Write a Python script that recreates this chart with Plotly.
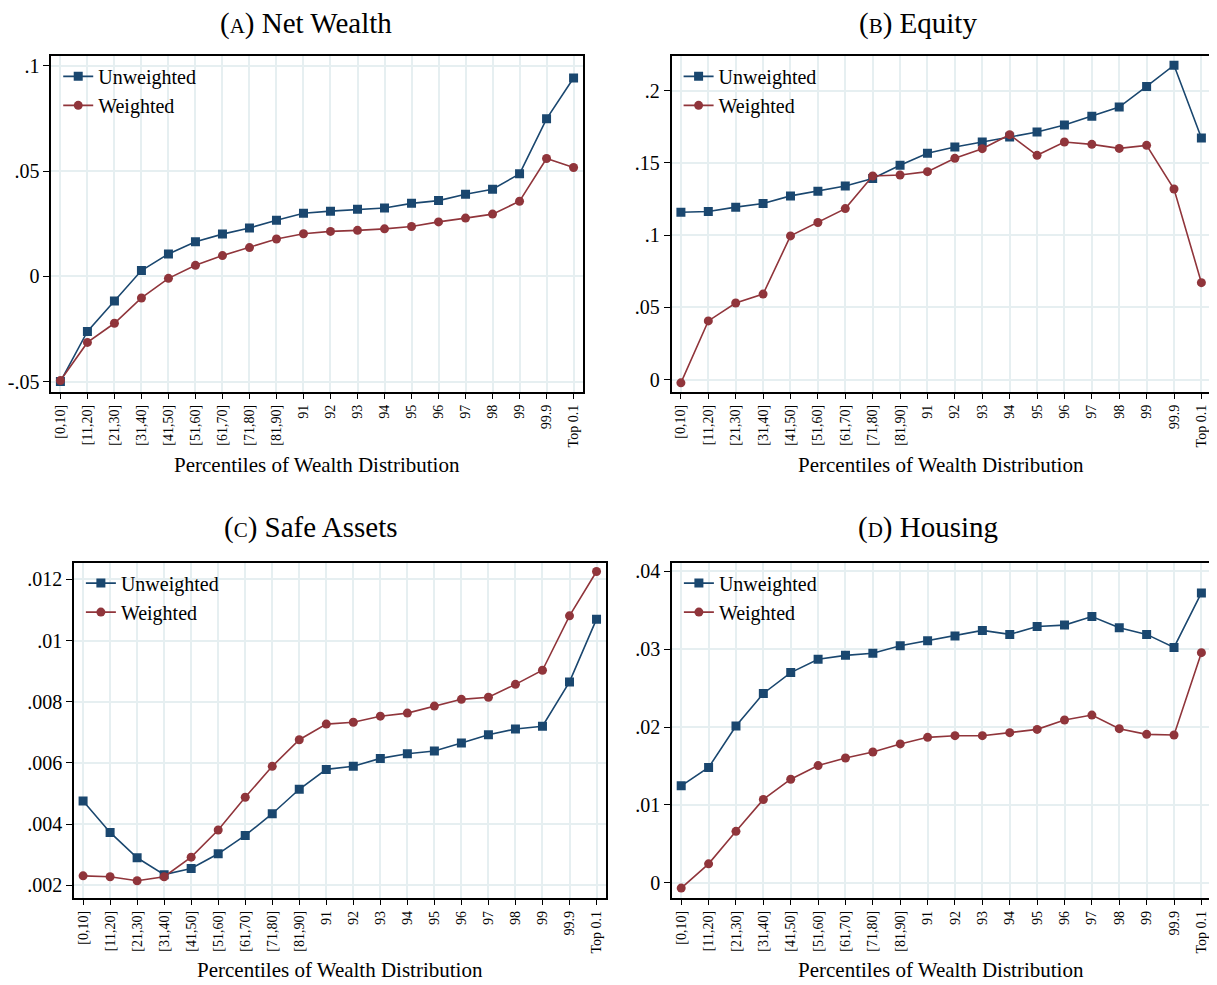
import plotly.graph_objects as go

# ---------------- data ----------------
categories = ["[0,10]", "[11,20]", "[21,30]", "[31,40]", "[41,50]", "[51,60]",
              "[61,70]", "[71,80]", "[81,90]", "91", "92", "93", "94", "95",
              "96", "97", "98", "99", "99.9", "Top 0.1"]

series_names = ["Unweighted", "Weighted"]

net_wealth_unweighted = [-0.0499, -0.0261, -0.0116, 0.0028, 0.0107, 0.0165, 0.0201, 0.0230,
                         0.0267, 0.0300, 0.0310, 0.0319, 0.0325, 0.0347, 0.0360, 0.0390,
                         0.0414, 0.0487, 0.0748, 0.0942]
net_wealth_weighted = [-0.0494, -0.0313, -0.0222, -0.0102, -0.0009, 0.0053, 0.0099, 0.0137,
                       0.0178, 0.0203, 0.0214, 0.0219, 0.0226, 0.0237, 0.0259, 0.0277,
                       0.0296, 0.0357, 0.0560, 0.0517]

equity_unweighted = [0.1159, 0.1164, 0.1194, 0.1219, 0.1272, 0.1304, 0.1341, 0.1392,
                     0.1484, 0.1567, 0.1611, 0.1645, 0.1680, 0.1714, 0.1763, 0.1823,
                     0.1887, 0.2030, 0.2177, 0.1673]
equity_weighted = [-0.0023, 0.0406, 0.0530, 0.0592, 0.0995, 0.1088, 0.1184, 0.1410,
                   0.1417, 0.1440, 0.1532, 0.1599, 0.1696, 0.1553, 0.1645, 0.1629,
                   0.1601, 0.1622, 0.1320, 0.0671]

safe_unweighted = [0.00476, 0.00373, 0.00290, 0.00235, 0.00255, 0.00303, 0.00363, 0.00434,
                   0.00514, 0.00579, 0.00589, 0.00615, 0.00630, 0.00639, 0.00665, 0.00692,
                   0.00711, 0.00720, 0.00865, 0.01070]
safe_weighted = [0.00231, 0.00228, 0.00215, 0.00228, 0.00292, 0.00381, 0.00488, 0.00589,
                 0.00676, 0.00727, 0.00733, 0.00753, 0.00763, 0.00786, 0.00808, 0.00815,
                 0.00857, 0.00903, 0.01081, 0.01226]

housing_unweighted = [0.01245, 0.01480, 0.02013, 0.02431, 0.02699, 0.02870, 0.02921, 0.02947,
                      0.03045, 0.03109, 0.03168, 0.03241, 0.03190, 0.03292, 0.03309, 0.03420,
                      0.03275, 0.03190, 0.03023, 0.03723]
housing_weighted = [-0.00068, 0.00243, 0.00661, 0.01070, 0.01330, 0.01505, 0.01603, 0.01680,
                    0.01783, 0.01868, 0.01889, 0.01889, 0.01928, 0.01970, 0.02090, 0.02154,
                    0.01979, 0.01906, 0.01898, 0.02955]

panel_letters = ["A", "B", "C", "D"]
panel_titles = ["Net Wealth", "Equity", "Safe Assets", "Housing"]
x_axis_title = "Percentiles of Wealth Distribution"

net_wealth_ticks = [-0.05, 0, 0.05, 0.1]
net_wealth_ticktext = ["-.05", "0", ".05", ".1"]
equity_ticks = [0, 0.05, 0.1, 0.15, 0.2]
equity_ticktext = ["0", ".05", ".1", ".15", ".2"]
safe_ticks = [0.002, 0.004, 0.006, 0.008, 0.01, 0.012]
safe_ticktext = [".002", ".004", ".006", ".008", ".01", ".012"]
housing_ticks = [0, 0.01, 0.02, 0.03, 0.04]
housing_ticktext = ["0", ".01", ".02", ".03", ".04"]

# ---------------- layout / style ----------------
PAGE_W, PAGE_H = 1217, 985
OFF = 8  # default body margin of the html page
W, H = PAGE_W - OFF, PAGE_H - OFF
FONT = "Liberation Serif"
NAVY = "#1a476f"
MAROON = "#90353b"
GRID = "#e6eff1"


def px(x):
    return (x - OFF) / W


def py(y):
    return 1 - (y - OFF) / H


panels = [
    dict(unw=net_wealth_unweighted, wt=net_wealth_weighted, tv=net_wealth_ticks, tt=net_wealth_ticktext,
         yr=[-0.0546, 0.1047], box=(49.3, 54, 581.7, 390.7), title_x=304, title_y=22, xt_y=464),
    dict(unw=equity_unweighted, wt=equity_weighted, tv=equity_ticks, tt=equity_ticktext,
         yr=[-0.0083, 0.2242], box=(670.7, 54, 1210.7, 390.7), title_x=918, title_y=22, xt_y=464),
    dict(unw=safe_unweighted, wt=safe_weighted, tv=safe_ticks, tt=safe_ticktext,
         yr=[0.00160, 0.01255], box=(72, 562.3, 604.7, 898.3), title_x=309, title_y=527, xt_y=971),
    dict(unw=housing_unweighted, wt=housing_weighted, tv=housing_ticks, tt=housing_ticktext,
         yr=[-0.0019, 0.04112], box=(671, 562.3, 1210.7, 898.3), title_x=928, title_y=527, xt_y=971),
]

fig = go.Figure()
layout = dict(
    width=W, height=H,
    margin=dict(l=0, r=0, t=0, b=0),
    paper_bgcolor="white", plot_bgcolor="white",
    font=dict(family=FONT, color="black"),
    annotations=[],
)

for i, p in enumerate(panels):
    n = "" if i == 0 else str(i + 1)
    xa, ya = "x" + n, "y" + n
    leg = "legend" + n
    x0, y0, x1, y1 = p["box"]
    fig.add_trace(go.Scatter(
        x=categories, y=p["unw"], name=series_names[0], mode="lines+markers",
        xaxis=xa, yaxis=ya, legend=leg,
        line=dict(color=NAVY, width=1.6),
        marker=dict(symbol="square", size=9, color=NAVY, line=dict(width=0)),
    ))
    fig.add_trace(go.Scatter(
        x=categories, y=p["wt"], name=series_names[1], mode="lines+markers",
        xaxis=xa, yaxis=ya, legend=leg,
        line=dict(color=MAROON, width=1.6),
        marker=dict(symbol="circle", size=9, color=MAROON, line=dict(width=0)),
    ))
    layout["xaxis" + n] = dict(
        domain=[px(x0), px(x1)], anchor=ya, type="category",
        categoryorder="array", categoryarray=categories,
        range=[-0.34, 19.34],
        showgrid=True, gridcolor=GRID, gridwidth=1.5,
        showline=True, linecolor="black", linewidth=1.5, mirror=True,
        ticks="outside", ticklen=6, tickwidth=1.2, tickcolor="black",
        tickangle=-90, tickfont=dict(family=FONT, size=14, color="black"),
        zeroline=False, fixedrange=True,
    )
    layout["yaxis" + n] = dict(
        domain=[py(y1), py(y0)], anchor=xa,
        range=p["yr"], tickvals=p["tv"], ticktext=p["tt"],
        showgrid=True, gridcolor=GRID, gridwidth=1.5,
        showline=True, linecolor="black", linewidth=1.5, mirror=True,
        ticks="outside", ticklen=6, tickwidth=1.2, tickcolor="black",
        tickfont=dict(family=FONT, size=20, color="black"),
        zeroline=False, fixedrange=True,
    )
    layout[leg] = dict(
        x=px(x0 + 7), y=py(y0 + 1), xanchor="left", yanchor="top",
        bgcolor="rgba(255,255,255,0)", borderwidth=0,
        font=dict(family=FONT, size=20, color="black"),
        tracegroupgap=0,
    )
    layout["annotations"].append(dict(
        text="(<span style='font-size:21px'>" + panel_letters[i] + "</span>) " + panel_titles[i],
        x=px(p["title_x"]), y=py(p["title_y"]), xref="paper", yref="paper",
        xanchor="center", yanchor="middle", showarrow=False,
        font=dict(family=FONT, size=29, color="black"),
    ))
    layout["annotations"].append(dict(
        text=x_axis_title,
        x=px((x0 + x1) / 2), y=py(p["xt_y"]), xref="paper", yref="paper",
        xanchor="center", yanchor="middle", showarrow=False,
        font=dict(family=FONT, size=21, color="black"),
    ))

fig.update_layout(**layout)
fig.write_html("out.html")
